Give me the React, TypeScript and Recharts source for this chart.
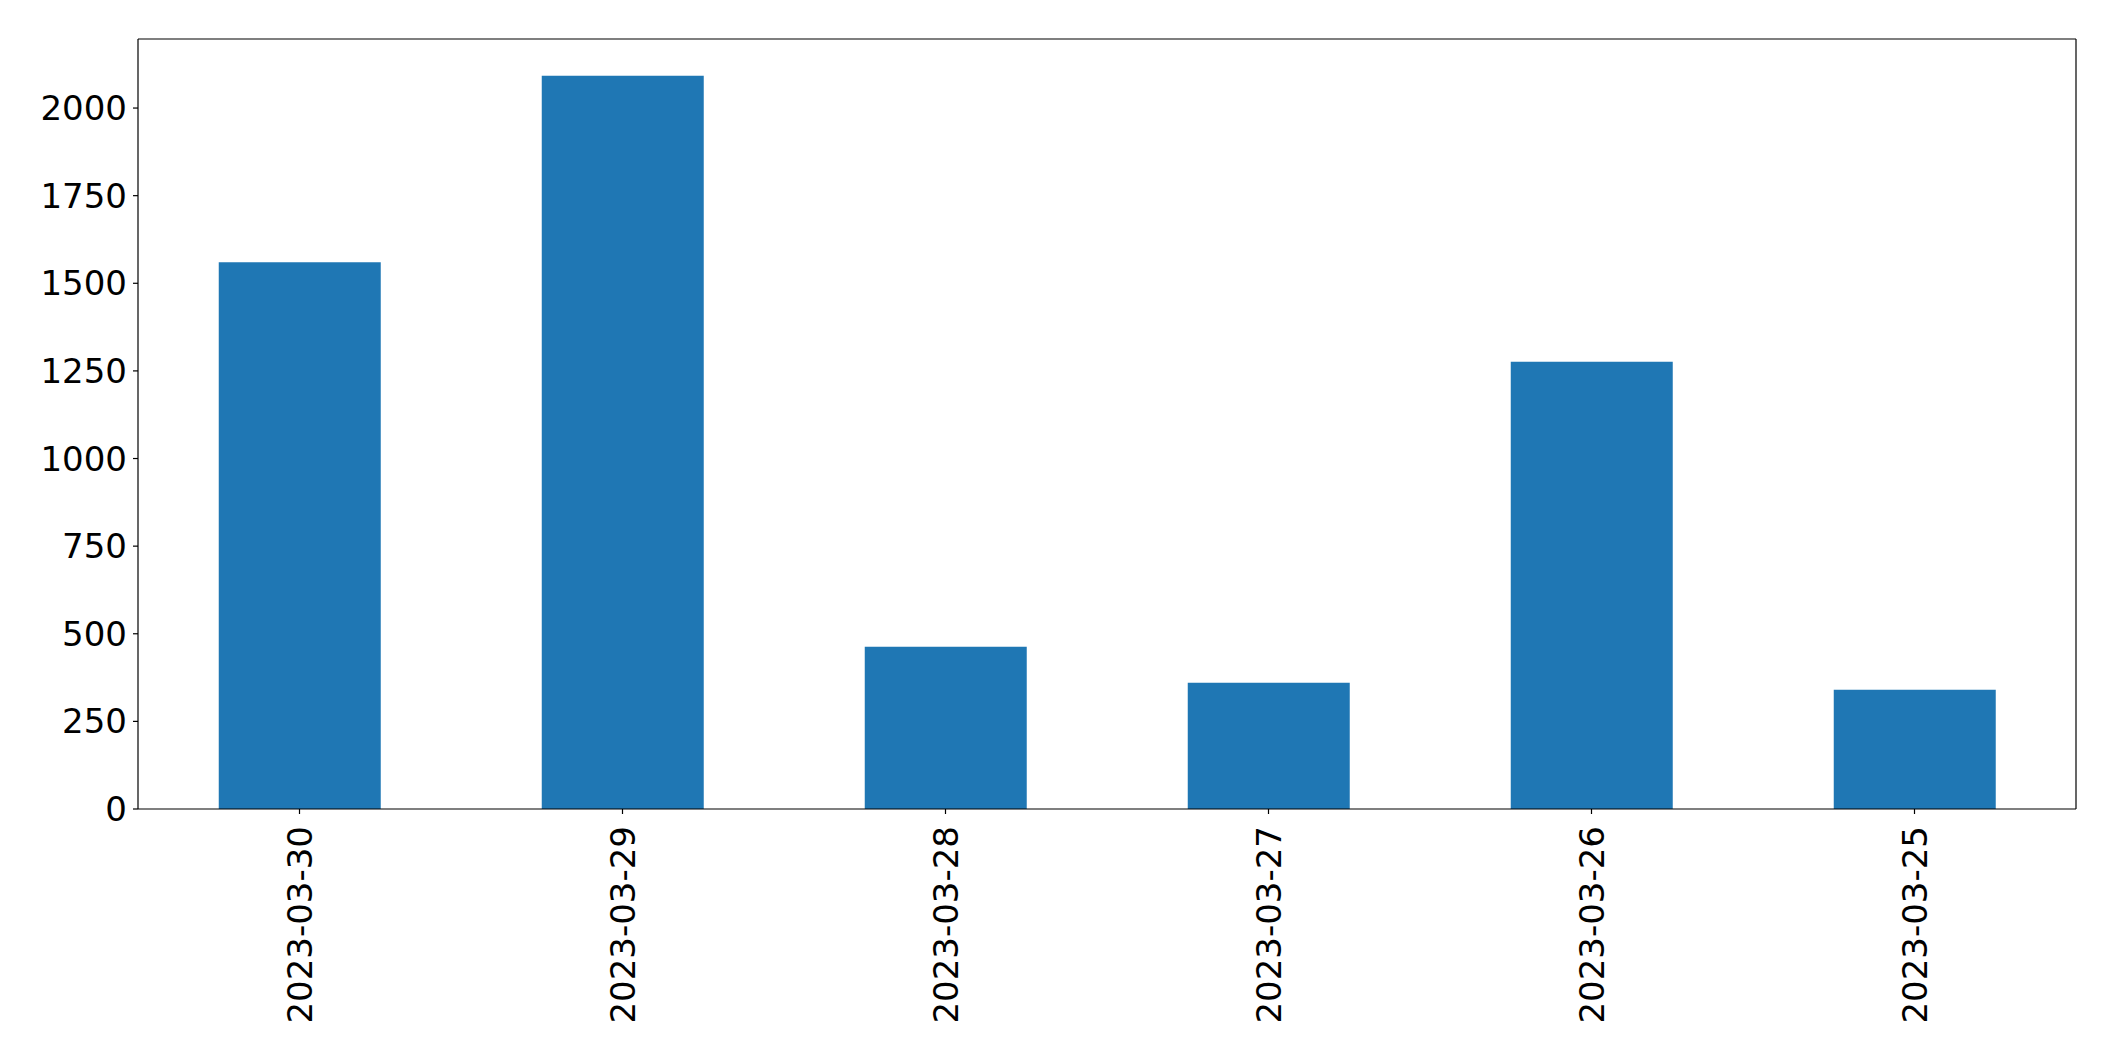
import React from 'react';
import { BarChart, Bar, XAxis, YAxis } from 'recharts';

const dates = ['2023-03-30', '2023-03-29', '2023-03-28', '2023-03-27', '2023-03-26', '2023-03-25'];
const counts = [1560, 2092, 463, 360, 1276, 340];
const yTicks = [0, 250, 500, 750, 1000, 1250, 1500, 1750, 2000];

const FONT = '"DejaVu Sans", sans-serif';
const FONT_SIZE = 34;

// rotated date labels, reading bottom to top like matplotlib rot=90
const DateTick = ({ x, y, payload }: any) => (
  <text
    x={x}
    y={y + 10}
    transform={`rotate(-90, ${x}, ${y + 10})`}
    textAnchor="end"
    dominantBaseline="central"
    fontFamily={FONT}
    fontSize={FONT_SIZE}
    fill="#000"
  >
    {payload.value}
  </text>
);

export default function App() {
  const chartData = dates.map((d, i) => ({ date: d, count: counts[i] }));

  return (
    <div style={{ position: 'absolute', left: 0, top: 0, background: '#fff' }}>
      <BarChart
        width={2115}
        height={1061}
        data={chartData}
        margin={{ top: 38, right: 38, bottom: 0, left: 0 }}
        barCategoryGap="25%"
      >
        <XAxis
          dataKey="date"
          height={252}
          interval={0}
          tick={<DateTick />}
          tickSize={5}
          axisLine={{ stroke: '#000', strokeWidth: 1.2 }}
          tickLine={{ stroke: '#000', strokeWidth: 1.2 }}
        />
        <XAxis
          xAxisId="top"
          orientation="top"
          dataKey="date"
          height={1}
          tick={false}
          tickLine={false}
          axisLine={{ stroke: '#000', strokeWidth: 1.2 }}
        />
        <YAxis
          width={138}
          domain={[0, 2197]}
          ticks={yTicks}
          tickSize={5}
          tickMargin={6}
          allowDataOverflow
          axisLine={{ stroke: '#000', strokeWidth: 1.2 }}
          tickLine={{ stroke: '#000', strokeWidth: 1.2 }}
          tick={{ fill: '#000', fontSize: FONT_SIZE, fontFamily: FONT }}
        />
        <YAxis
          yAxisId="right"
          orientation="right"
          width={1}
          tick={false}
          tickLine={false}
          axisLine={{ stroke: '#000', strokeWidth: 1.2 }}
        />
        <Bar dataKey="count" fill="#1f77b4" isAnimationActive={false} />
      </BarChart>
    </div>
  );
}
